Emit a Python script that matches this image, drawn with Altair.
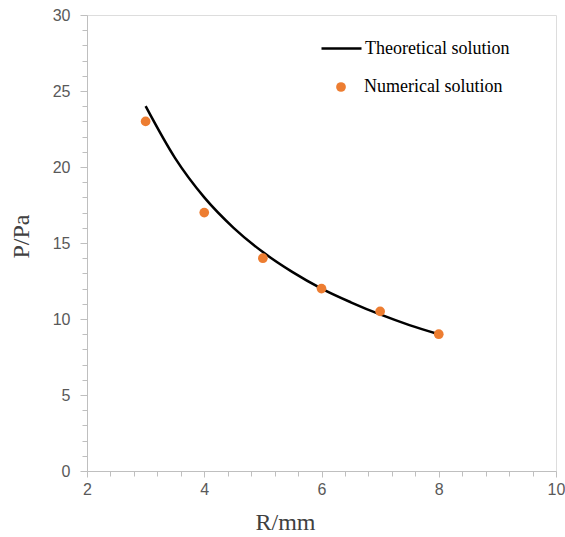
import altair as alt
import pandas as pd

# Theoretical solution
r_theory = [3, 3.5, 4, 4.5, 5, 5.5, 6, 6.5, 7, 7.5, 8]
p_theory = [24, 20.6, 18, 16, 14.4, 13.1, 12, 11.1, 10.3, 9.6, 9]
# Numerical solution points
r_num = [3, 4, 5, 6, 7, 8]
p_num = [23, 17, 14, 12, 10.5, 9]

x_ticks = [2, 2.4, 2.8, 3.2, 3.6, 4, 4.4, 4.8, 5.2, 5.6, 6, 6.4, 6.8, 7.2, 7.6,
           8, 8.4, 8.8, 9.2, 9.6, 10]
y_ticks = list(range(0, 31))

theory = pd.DataFrame({"R": r_theory, "P": p_theory, "series": "Theoretical solution"})
numer = pd.DataFrame({"R": r_num, "P": p_num, "series": "Numerical solution"})

W, H = 469, 456
label_font = "Liberation Sans"
serif = "Liberation Serif"

x_major = "abs(round(datum.value) - datum.value) < 0.001 && round(datum.value) % 2 == 0"
x_axis = alt.Axis(
    values=x_ticks,
    labelExpr=x_major + " ? format(datum.value, 'd') : ''",
    tickSize={"condition": {"test": x_major, "value": 6}, "value": 5},
    grid=False, domainColor="#BFBFBF", tickColor="#BFBFBF", labelColor="#595959",
    labelFont=label_font, labelFontSize=16, labelPadding=4, labelFlush=False,
    labelOverlap=False,
    title="R/mm", titleFont=serif, titleFontSize=24, titleFontWeight="normal",
    titleColor="#404040", titleX=198, titleY=51, titleBaseline="middle", titleAnchor="start",
    titleAlign="center",
)
y_axis = alt.Axis(
    values=y_ticks,
    labelExpr="datum.value % 5 == 0 ? datum.label : ''",
    tickSize={"condition": {"test": "datum.value % 5 == 0", "value": 7}, "value": 5},
    grid=False, domainColor="#BFBFBF", tickColor="#BFBFBF", labelColor="#595959",
    labelFont=label_font, labelFontSize=16, labelPadding=10, labelOverlap=False,
    title="P/Pa", titleFont=serif, titleFontSize=24, titleFontWeight="normal",
    titleColor="#404040", titleX=-66, titleY=221, titleBaseline="middle", titleAlign="center",
    titleAngle=-90,
)

x_enc = alt.X("R:Q", scale=alt.Scale(domain=[2, 10], nice=False), axis=x_axis)
y_enc = alt.Y("P:Q", scale=alt.Scale(domain=[0, 30], nice=False), axis=y_axis)

line = alt.Chart(theory).mark_line(strokeWidth=2.5, interpolate="monotone").encode(
    x=x_enc, y=y_enc,
    color=alt.Color("series:N", scale=alt.Scale(domain=["Theoretical solution"], range=["#000000"]),
                    legend=alt.Legend(orient="none", legendX=233, legendY=12, title=None,
                                      symbolType="stroke", symbolSize=1600, symbolStrokeWidth=2.5,
                                      labelFont=serif, labelFontSize=18, labelColor="#000000",
                                      labelOffset=2, padding=0)),
)

points = alt.Chart(numer).mark_circle(size=95, opacity=1).encode(
    x=x_enc, y=y_enc,
    fill=alt.Fill("series:N", scale=alt.Scale(domain=["Numerical solution"], range=["#ED7D31"]),
                  legend=alt.Legend(orient="none", legendX=245, legendY=63, title=None,
                                    symbolType="circle", symbolSize=95, symbolStrokeWidth=0,
                                    labelFont=serif, labelFontSize=18, labelColor="#000000",
                                    labelOffset=14, padding=0)),
)

chart = alt.layer(line, points).properties(
    width=W, height=H,
    autosize=alt.AutoSizeParams(type="none"),
    padding={"left": 87, "top": 15, "right": 9, "bottom": 66},
).configure_view(stroke=None).configure(background="white")

chart.save("out.html", embed_options={"renderer": "svg", "actions": False})
